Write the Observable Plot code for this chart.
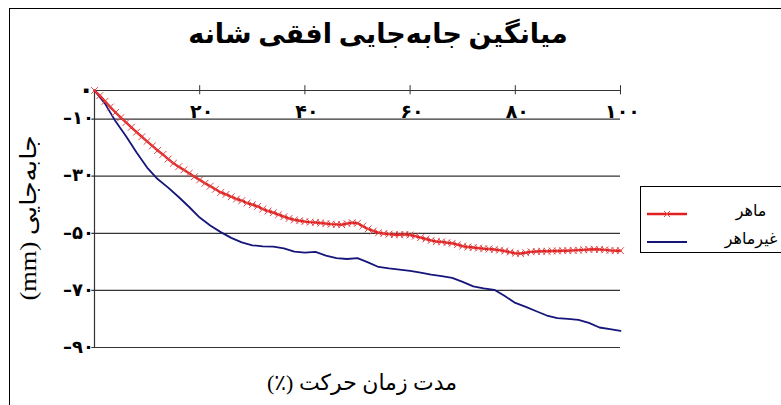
<!DOCTYPE html>
<html>
<head>
<meta charset="utf-8">
<script src="https://cdn.jsdelivr.net/npm/d3@7"></script>
<script src="https://cdn.jsdelivr.net/npm/@observablehq/plot@0.6"></script>
<style>
  html, body { margin: 0; padding: 0; background: #fff; }
  #wrap { position: relative; width: 781px; height: 405px; overflow: hidden; font-family: "Liberation Serif", "DejaVu Sans", serif; }
  #wrap svg { position: absolute; left: 0; top: 0; }
  .abs { position: absolute; white-space: nowrap; color: #000; }
</style>
</head>
<body>
<div id="wrap"></div>
<script>
// ---- data ----
const titleText = "میانگین جابه‌جایی افقی شانه";
const xLabel = "مدت زمان حرکت (٪)";
const yLabel = "جابه‌جایی (mm)";
const seriesNames = ["ماهر", "غیرماهر"];
const seriesColors = ["#e21f1f", "#16167a"];

const xTicks = [20, 40, 60, 80, 100];
const xTickLabels = ["۲۰", "۴۰", "۶۰", "۸۰", "۱۰۰"];
const yTicks = [0, -10, -30, -50, -70, -90];
const yTickLabels = ["۰", "–۱۰", "–۳۰", "–۵۰", "–۷۰", "–۹۰"];
const gridY = [-10, -30, -50, -70, -90];

// ماهر (expert), one value per 1% of movement time, 0..100
const expertX = d3.range(0, 101);
const expertY = [
  0, -1.8, -3.8, -5.8, -7.7, -9.5, -11.2, -12.9, -14.6, -16.2,
  -17.8, -19.4, -21, -22.4, -24, -25.5, -26.7, -27.8, -29, -30.2,
  -31.3, -32.5, -33.5, -34.6, -35.7, -36.4, -37.2, -38, -38.6, -39.4,
  -40, -40.6, -41.5, -42.2, -42.8, -43.5, -44.2, -44.8, -45.3, -45.6,
  -45.9, -46.1, -46.2, -46.4, -46.6, -46.8, -46.9, -47, -46.6, -46.3,
  -46.5, -47.5, -48.5, -49.2, -49.8, -50.1, -50.3, -50.5, -50.5, -50.4,
  -50.6, -51, -51.5, -52, -52.5, -52.9, -53, -53.3, -53.5, -54,
  -54.5, -54.8, -55, -55.2, -55.4, -55.5, -55.7, -55.9, -56.2, -56.6,
  -57, -57.1, -56.8, -56.5, -56.4, -56.3, -56.3, -56.2, -56.2, -56.1,
  -56.1, -56, -55.9, -55.8, -55.7, -55.6, -55.7, -55.8, -56, -56.1,
  -56.1
];

// غیرماهر (non-expert), every 2%
const noviceX = d3.range(0, 101, 2);
const noviceY = [
  0, -4.6, -10.8, -16, -21.7, -27, -31, -34, -37.3, -40.8,
  -44.5, -47.3, -49.6, -51.6, -53.2, -54.2, -54.6, -54.7, -55.3, -56.4,
  -56.8, -56.5, -57.8, -58.7, -59, -58.7, -60.2, -61.8, -62.3, -62.7,
  -63.2, -63.8, -64.5, -65, -65.6, -67, -68.6, -69.3, -69.8, -72,
  -74.4, -75.8, -77.3, -78.8, -79.7, -80, -80.3, -81.4, -83, -83.6,
  -84.2
];

const expert = expertX.map((x, i) => ({x, y: expertY[i]}));
const novice = noviceX.map((x, i) => ({x, y: noviceY[i]}));

const font = '"Liberation Serif", "DejaVu Sans", serif';
const digitFont = '"DejaVu Sans", sans-serif';

const chart = Plot.plot({
  width: 781,
  height: 405,
  marginLeft: 94,
  marginRight: 161,
  marginTop: 90,
  marginBottom: 58,
  x: {domain: [0, 100], axis: null},
  y: {domain: [-90, 0], axis: null},
  style: {fontFamily: font, background: "transparent"},
  marks: [
    Plot.ruleY(gridY, {x1: -0.5, x2: 100, stroke: "#333", strokeWidth: 1.2, strokeOpacity: 1}),
    Plot.ruleY([0], {x1: 0, x2: 100, stroke: "#333", strokeWidth: 1.2, strokeOpacity: 1}),
    Plot.ruleX([0], {y1: 0, y2: -90, stroke: "#333", strokeWidth: 1.2, strokeOpacity: 1}),
    Plot.ruleX(xTicks, {y1: 1.7, y2: -1.5, stroke: "#333", strokeWidth: 1, strokeOpacity: 1}),
    Plot.text(xTicks, {x: d => d, y: 0, text: (d, i) => xTickLabels[i], dy: 21, dx: 2, fontSize: 19, fontWeight: "bold", fontFamily: digitFont, fill: "#000"}),
    Plot.text(yTicks, {x: 0, y: d => d, text: (d, i) => yTickLabels[i], dx: d => d === 0 ? -10 : -8, dy: d => d === 0 ? -5 : 0, textAnchor: "end", fontSize: d => d === 0 ? 26 : 18, fontWeight: "bold", fontFamily: digitFont, fill: "#000"}),
    Plot.line(novice, {x: "x", y: "y", stroke: seriesColors[1], strokeWidth: 1.8}),
    Plot.line(expert, {x: "x", y: "y", stroke: seriesColors[0], strokeWidth: 2.4}),
    Plot.dot(expert, {x: "x", y: "y", symbol: "times", r: 3.2, stroke: "#e04848", strokeWidth: 1})
  ]
});

const wrap = document.getElementById("wrap");
wrap.appendChild(chart);

function addDiv(html, css) {
  const d = document.createElement("div");
  d.className = "abs";
  d.innerHTML = html;
  Object.assign(d.style, css);
  wrap.appendChild(d);
  return d;
}

// outer frame (top and left edges visible)
addDiv("", {left: "9px", top: "8px", width: "800px", height: "420px", borderTop: "1.5px solid #000", borderLeft: "1.5px solid #000"});

// title
addDiv(titleText, {left: "378px", top: "18px", transform: "translateX(-50%)", fontSize: "27px", fontWeight: "bold", direction: "rtl", fontFamily: font});

// x label
addDiv(xLabel, {left: "362px", top: "370px", transform: "translateX(-50%)", fontSize: "22px", direction: "rtl", fontFamily: font});

// y label (rotated)
addDiv(yLabel, {left: "28px", top: "218px", transform: "translate(-50%, -50%) rotate(-90deg) scaleX(1.15)", fontSize: "23px", direction: "rtl", fontFamily: font});

// legend
const legend = addDiv("", {left: "640px", top: "186px", width: "200px", height: "65px", borderTop: "1.5px solid #000", borderLeft: "1.5px solid #000", borderBottom: "1.5px solid #000", background: "#fff"});
const ly = [27, 55];
seriesNames.forEach((name, i) => {
  const s = document.createElementNS("http://www.w3.org/2000/svg", "svg");
  s.setAttribute("width", "60"); s.setAttribute("height", "12");
  s.style.position = "absolute"; s.style.left = "0px"; s.style.top = (ly[i] - 6) + "px";
  s.innerHTML = `<line x1="6" x2="46" y1="6" y2="6" stroke="${seriesColors[i]}" stroke-width="${i === 0 ? 2.6 : 2}"/>` +
    (i === 0 ? `<path d="M23,3L29,9M29,3L23,9" stroke="#e04848" stroke-width="1"/>` : "");
  legend.appendChild(s);
  const t = document.createElement("div");
  t.className = "abs";
  t.textContent = name;
  Object.assign(t.style, {left: "110px", top: (ly[i] - 13) + "px", transform: "translateX(-50%)", fontSize: "16px", direction: "rtl", fontFamily: font});
  legend.appendChild(t);
});
</script>
</body>
</html>
